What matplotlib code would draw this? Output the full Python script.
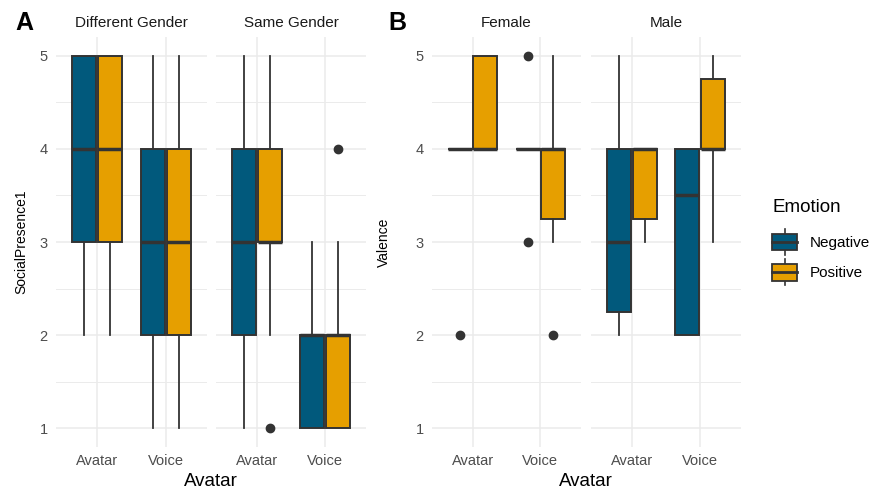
import matplotlib.pyplot as plt
from matplotlib.legend_handler import HandlerBase
from matplotlib.lines import Line2D
from matplotlib.patches import Patch, Rectangle

plt.rcParams["font.family"] = ["Liberation Sans", "DejaVu Sans"]

avatar_levels = ["Avatar", "Voice"]
emotions = ["Negative", "Positive"]
emotion_colors = ["#01597C", "#E69F00"]

# box order in every facet: Avatar/Negative, Avatar/Positive, Voice/Negative, Voice/Positive
# Panel A: SocialPresence1
sp_facets = ["Different Gender", "Same Gender"]
sp_diff_q1 = [3, 3, 2, 2]
sp_diff_med = [4, 4, 3, 3]
sp_diff_q3 = [5, 5, 4, 4]
sp_diff_lo = [2, 2, 1, 1]
sp_diff_hi = [5, 5, 5, 5]
sp_diff_out = [[], [], [], []]

sp_same_q1 = [2, 3, 1, 1]
sp_same_med = [3, 3, 2, 2]
sp_same_q3 = [4, 4, 2, 2]
sp_same_lo = [1, 2, 1, 1]
sp_same_hi = [5, 5, 3, 3]
sp_same_out = [[], [1], [], [4]]

# Panel B: Valence
val_facets = ["Female", "Male"]
val_fem_q1 = [4, 4, 4, 3.25]
val_fem_med = [4, 4, 4, 4]
val_fem_q3 = [4, 5, 4, 4]
val_fem_lo = [4, 4, 4, 3]
val_fem_hi = [4, 5, 4, 5]
val_fem_out = [[2], [], [5, 3], [2]]

val_male_q1 = [2.25, 3.25, 2, 4]
val_male_med = [3, 4, 3.5, 4]
val_male_q3 = [4, 4, 4, 4.75]
val_male_lo = [2, 3, 2, 3]
val_male_hi = [5, 4, 4, 5]
val_male_out = [[], [], [], []]

W, H = 872, 492
EDGE = "#333333"
GRID = "#EBEBEB"


def px_axes(fig, x0, x1, y0, y1):
    return fig.add_axes([x0 / W, 1 - y1 / H, (x1 - x0) / W, (y1 - y0) / H])


def draw_facet(ax, q1, med, q3, lo, hi, out, title, show_y):
    stats, positions, colors = [], [], []
    k = 0
    for i in range(len(avatar_levels)):
        for j in range(len(emotions)):
            stats.append(dict(q1=q1[k], med=med[k], q3=q3[k],
                              whislo=lo[k], whishi=hi[k], fliers=out[k]))
            positions.append(i + 1 + (j - 0.5) * 0.375)
            colors.append(emotion_colors[j])
            k += 1
    parts = ax.bxp(
        stats, positions=positions, widths=0.35, patch_artist=True,
        showcaps=False, manage_ticks=False,
        boxprops=dict(edgecolor=EDGE, linewidth=1.4),
        medianprops=dict(color=EDGE, linewidth=2.5, solid_capstyle="butt"),
        whiskerprops=dict(color=EDGE, linewidth=1.3),
        flierprops=dict(marker="o", markerfacecolor=EDGE, markeredgecolor=EDGE,
                        markersize=6),
    )
    for box, c in zip(parts["boxes"], colors):
        box.set_facecolor(c)

    ax.set_xlim(0.4, 2.6)
    ax.set_ylim(0.8, 5.2)
    ax.set_xticks([1, 2], avatar_levels)
    ax.set_yticks([1, 2, 3, 4, 5])
    ax.set_yticks([1.5, 2.5, 3.5, 4.5], minor=True)
    ax.set_axisbelow(True)
    ax.grid(which="major", color=GRID, linewidth=1.1)
    ax.grid(which="minor", axis="y", color=GRID, linewidth=0.7)
    ax.tick_params(which="both", length=0, labelsize=10.5, labelcolor="#4D4D4D")
    ax.tick_params(axis="x", pad=5)
    ax.tick_params(axis="y", pad=6, labelleft=show_y)
    for s in ax.spines.values():
        s.set_visible(False)
    ax.set_title(title, fontsize=11, color="#1A1A1A", pad=7)


class BoxKeyHandler(HandlerBase):
    def create_artists(self, legend, orig_handle, xdescent, ydescent,
                       width, height, fontsize, trans):
        x0, y0 = -xdescent, -ydescent
        inset = 0.17 * height
        cx = x0 + width / 2
        mid = y0 + height / 2
        whisk = Line2D([cx, cx], [y0, y0 + height], color=EDGE, lw=1.2,
                       transform=trans)
        rect = Rectangle((x0, y0 + inset), width, height - 2 * inset,
                         facecolor=orig_handle.get_facecolor(), edgecolor=EDGE,
                         lw=1.3, transform=trans)
        median = Line2D([x0, x0 + width], [mid, mid], color=EDGE, lw=2.0,
                        transform=trans)
        return [whisk, rect, median]


fig = plt.figure(figsize=(W / 100, H / 100), dpi=100)

panels = [
    (56, 207, sp_facets[0], (sp_diff_q1, sp_diff_med, sp_diff_q3, sp_diff_lo, sp_diff_hi, sp_diff_out), True),
    (216, 366, sp_facets[1], (sp_same_q1, sp_same_med, sp_same_q3, sp_same_lo, sp_same_hi, sp_same_out), False),
    (432, 581, val_facets[0], (val_fem_q1, val_fem_med, val_fem_q3, val_fem_lo, val_fem_hi, val_fem_out), True),
    (591, 741, val_facets[1], (val_male_q1, val_male_med, val_male_q3, val_male_lo, val_male_hi, val_male_out), False),
]
for x0, x1, title, data, show_y in panels:
    ax = px_axes(fig, x0, x1, 37, 447)
    draw_facet(ax, *data, title, show_y)

# panel tags and axis titles
fig.text(24 / W, 1 - 23 / H, "A", fontsize=18, fontweight="bold", ha="center", va="center")
fig.text(397 / W, 1 - 23 / H, "B", fontsize=18, fontweight="bold", ha="center", va="center")
fig.text(21 / W, 1 - 242 / H, "SocialPresence1", fontsize=10, rotation=90, ha="center", va="center")
fig.text(384 / W, 1 - 242 / H, "Valence", fontsize=10, rotation=90, ha="center", va="center")
fig.text(211 / W, 1 - 482 / H, "Avatar", fontsize=13.5, ha="center", va="center")
fig.text(586 / W, 1 - 482 / H, "Avatar", fontsize=13.5, ha="center", va="center")

handles = [Patch(facecolor=c) for c in emotion_colors]
leg = fig.legend(
    handles, emotions, title="Emotion", loc="upper left",
    bbox_to_anchor=(772 / W, 1 - 199 / H), frameon=False, fontsize=11,
    title_fontsize=13.5, alignment="left", borderpad=0, borderaxespad=0,
    handlelength=1.65, handleheight=2.2, handletextpad=0.8, labelspacing=0.3,
    handler_map={Patch: BoxKeyHandler()},
)
# more room between the legend title and the keys, as in ggplot
leg._legend_box.sep = 9.5

fig.savefig("out.png", dpi=100)
